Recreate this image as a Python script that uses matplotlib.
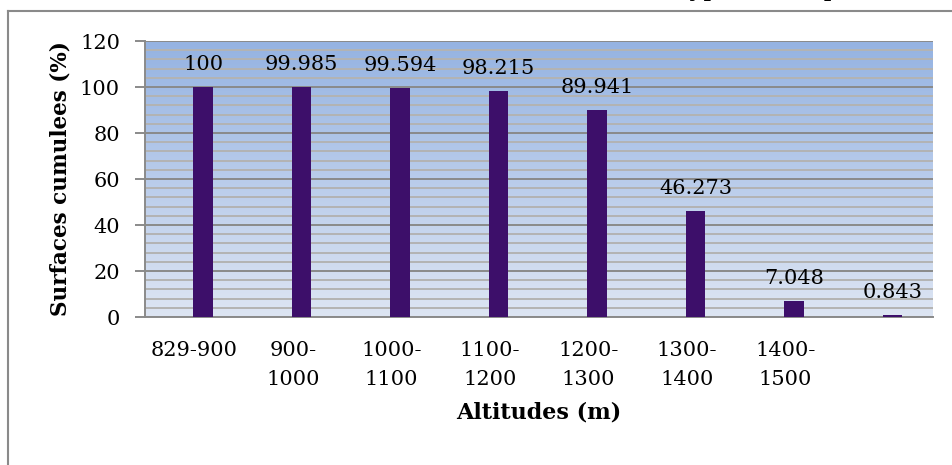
import numpy as np
import matplotlib
matplotlib.use("Agg")
import matplotlib.pyplot as plt
from matplotlib.lines import Line2D
from matplotlib.colors import LinearSegmentedColormap

# data
altitudes = ['829-900', '900-\n1000', '1000-\n1100', '1100-\n1200',
             '1200-\n1300', '1300-\n1400', '1400-\n1500', '']
surfaces = [100, 99.985, 99.594, 98.215, 89.941, 46.273, 7.048, 0.843]
value_labels = ['100', '99.985', '99.594', '98.215', '89.941', '46.273', '7.048', '0.843']

plt.rcParams['font.family'] = ['DejaVu Serif']

fig = plt.figure(figsize=(9.53, 4.65), dpi=100)
ax = fig.add_axes([145 / 953, 1 - 317 / 465, (933 - 145) / 953, (317 - 41) / 465])

x = np.arange(len(altitudes))
ax.set_xlim(-0.5, len(altitudes) - 0.5)
ax.set_ylim(0, 120)

# gradient background
cmap = LinearSegmentedColormap.from_list('bg', ['#dde5f3', '#95b3e2'])
grad = np.linspace(0, 1, 256).reshape(-1, 1)
ax.imshow(grad, cmap=cmap, aspect='auto', origin='lower',
          extent=[-0.5, len(altitudes) - 0.5, 0, 120], zorder=0)

# grid lines
ax.set_yticks(np.arange(0, 121, 20))
ax.set_yticks(np.arange(0, 121, 4), minor=True)
ax.grid(which='minor', axis='y', color='#b3b3b3', linewidth=1.4, zorder=1)
ax.grid(which='major', axis='y', color='#8a8a8a', linewidth=1.4, zorder=1)

bars = ax.bar(x + 0.09, surfaces, width=0.2, color='#3d0f6a', zorder=3)

for xi, v, lab in zip(x, surfaces, value_labels):
    ax.annotate(lab, (xi + 0.09, v), xytext=(0, 12), textcoords='offset points',
                ha='center', va='baseline', fontsize=15, zorder=4)

ax.set_xticks(x)
ax.set_xticklabels(altitudes, fontsize=15, linespacing=1.7)
ax.tick_params(axis='x', length=0, pad=17)
ax.tick_params(axis='y', which='major', length=7, color='#8a8a8a', width=1.4,
               labelsize=15, pad=11)
ax.tick_params(axis='y', which='minor', length=0)

for s in ['top', 'right']:
    ax.spines[s].set_visible(False)
for s in ['left', 'bottom']:
    ax.spines[s].set_color('#8a8a8a')
    ax.spines[s].set_linewidth(1.4)

ax.set_ylabel('Surfaces cumulees (%)', fontsize=15.5, fontweight='bold')
ax.set_xlabel('Altitudes (m)', fontsize=16, fontweight='bold', labelpad=9)
ax.yaxis.set_label_coords(-0.093, 0.5)

# chart frame (left and top edges visible)
fig.add_artist(Line2D([8.5 / 953, 8.5 / 953], [0, 1 - 11 / 465],
                      transform=fig.transFigure, color='#8a8a8a', linewidth=1.5))
fig.add_artist(Line2D([8.5 / 953, 1], [1 - 11 / 465, 1 - 11 / 465],
                      transform=fig.transFigure, color='#8a8a8a', linewidth=1.5))

# caption above the chart, cut off by the top edge
fig.text(673 / 953, 1 + 4 / 465, 'hypsometrique', fontsize=18, ha='left', va='baseline')

fig.savefig('out.png', dpi=100)
